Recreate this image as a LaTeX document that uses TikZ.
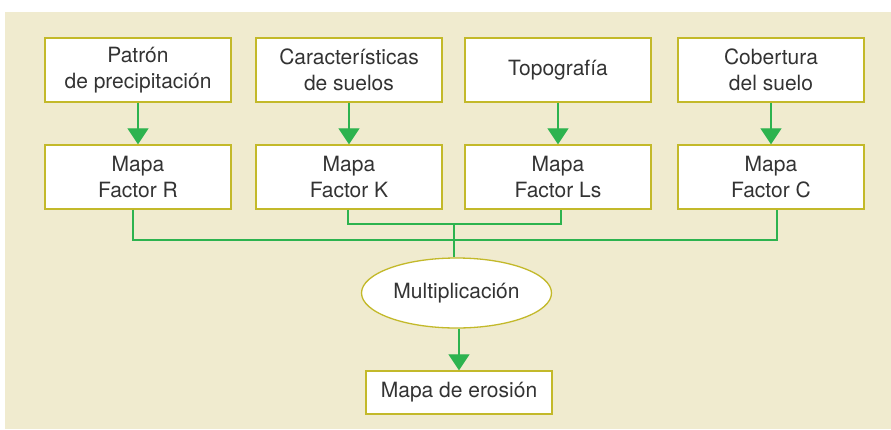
\documentclass[tikz,border=0pt]{standalone}
\usepackage{fontspec}
\setmainfont{TeX Gyre Heros}
\usetikzlibrary{shapes.geometric,arrows.meta}
\definecolor{bgc}{HTML}{F0EBCF}
\definecolor{boxc}{HTML}{C3B92A}
\definecolor{linec}{HTML}{2DB34F}
\definecolor{txtc}{HTML}{333333}
\tikzset{
  box/.style={draw=boxc, line width=1.3pt, fill=white, minimum width=186pt, minimum height=64pt, inner sep=0pt, align=center, text=txtc, font=\fontsize{21}{26}\selectfont},
  conn/.style={draw=linec, line width=1.2pt},
  arr/.style={conn, -{Triangle[width=21pt,length=16pt]}}
}
\begin{document}
\begin{tikzpicture}[x=1pt,y=-1pt]
\useasboundingbox (0,0) rectangle (891,429);
\fill[bgc] (5,12) rectangle (891,429);
% top row
\node[box] (p) at (138,70) {Patrón\\de precipitación};
\node[box] (s) at (349,70) {Características\\de suelos};
\node[box] (tp) at (558,70) {Topografía};
\node[box] (c) at (771,70) {Cobertura\\del suelo};
% second row
\node[box] (r) at (138,177) {Mapa\\Factor R};
\node[box] (k) at (349,177) {Mapa\\Factor K};
\node[box] (ls) at (558,177) {Mapa\\Factor Ls};
\node[box] (f) at (771,177) {Mapa\\Factor C};
% ellipse
\node[ellipse, draw=boxc, line width=1.3pt, fill=white, minimum width=190pt, minimum height=70pt, inner sep=0pt, text=txtc, font=\fontsize{21}{26}\selectfont] (m) at (456.5,293) {Multiplicación};
% bottom box
\node[box, minimum height=43pt] (e) at (459,392.5) {Mapa de erosión};
% arrows
\draw[arr] (p.south) -- (r.north);
\draw[arr] (s.south) -- (k.north);
\draw[arr] (tp.south) -- (ls.north);
\draw[arr] (c.south) -- (f.north);
\coordinate (hR) at (133,240);
\coordinate (hC) at (777,240);
\coordinate (hK) at (348,224);
\coordinate (hL) at (561,224);
\coordinate (hM) at (454,224);
\draw[conn] (r.south -| hR) -- (hR) -- (hC) -- (f.south -| hC);
\draw[conn] (k.south -| hK) -- (hK) -- (hL) -- (ls.south -| hL);
\draw[conn] (hM) -- (m.north -| hM);
\draw[arr] (m.south -| e.north) -- (e.north);
\end{tikzpicture}
\end{document}
